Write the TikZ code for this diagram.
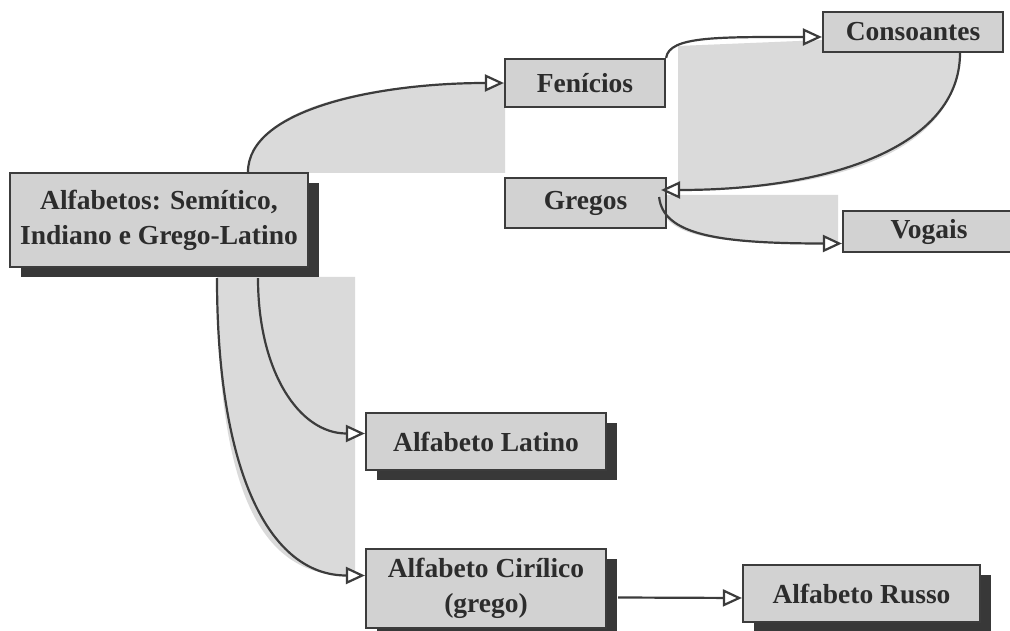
\documentclass[tikz,border=0pt]{standalone}
\usepackage{fontspec}
\setmainfont{Liberation Serif}
\usetikzlibrary{arrows.meta,shadows,calc}
\definecolor{boxfill}{HTML}{D2D2D2}
\definecolor{shadefill}{HTML}{DADADA}
\definecolor{shadowc}{HTML}{383838}
\definecolor{linec}{HTML}{3C3C3C}
\definecolor{textc}{HTML}{2C2C2C}
\begin{document}
\begin{tikzpicture}[x=1pt,y=-1pt,
  box/.style={draw=linec, line width=2.2pt, fill=boxfill, inner sep=0pt,
    align=center, text=textc, font=\fontsize{27.5}{35}\selectfont\bfseries},
  shad/.style={drop shadow={shadow xshift=11pt, shadow yshift=-10pt, fill=shadowc, opacity=1}},
  conn/.style={draw=linec, line width=2.2pt, -{Triangle[length=19pt,width=17pt,fill=white,line width=2.2pt]}},
  plain/.style={draw=linec, line width=2.2pt}]
\useasboundingbox (0,0) rectangle (1010,631);
\fill[white] (0,0) rectangle (1010,631);

% shaded areas under connectors
\fill[shadefill] (248,173) .. controls (248,110) and (361,83) .. (486,83) -- (505,83) -- (505,173) -- cycle;
\fill[shadefill] (678,195) -- (678,46) -- (823,40) -- (823,52) -- (960,52)
   .. controls (960,145) and (849,192) .. (679,190) -- (678,195) -- cycle;
\fill[shadefill] (658,197) .. controls (662,235) and (701,243.5) .. (824,243.5)
   -- (838,243.5) -- (838,195) -- (658,195) -- cycle;
\fill[shadefill] (217,277) .. controls (217,470) and (251,575.5) .. (347,575.5)
   -- (355,575.5) -- (355,277) -- cycle;

% boxes
\node[box, shad, minimum width=298pt, minimum height=94pt] (main) at (159,220)
  {Alfabetos: Semítico,\\Indiano e Grego-Latino};
\node[box, minimum width=160pt, minimum height=48pt] (fen) at (585,83) {Fenícios};
\node[box, minimum width=180pt, minimum height=40pt] (cons) at (913,32) {Consoantes};
\node[box, minimum width=161pt, minimum height=50pt] (greg) at (585.5,203) {Gregos};
\node[box, minimum width=172pt, minimum height=41pt, text width=165pt] (vog) at (929,231.5) {Vogais};
\node[box, shad, minimum width=240pt, minimum height=57pt] (lat) at (486,441.5) {Alfabeto Latino};
\node[box, shad, minimum width=240pt, minimum height=79pt] (cir) at (486,588.5) {Alfabeto Cirílico\\(grego)};
\node[box, shad, minimum width=237pt, minimum height=57pt] (rus) at (861.5,593.5) {Alfabeto Russo};

% connector end points
\coordinate (sFen) at ([xshift=89pt]main.north);
\coordinate (sLat) at ([xshift=99pt,yshift=-10pt]main.south);
\coordinate (sCir) at ([xshift=58pt,yshift=-10pt]main.south);
\coordinate (eLat) at ([yshift=8pt]lat.west);
\coordinate (eCir) at ([yshift=13pt]cir.west);
\coordinate (eCons) at ([yshift=-5pt]cons.west);
\coordinate (sCG) at ([xshift=47pt]cons.south);
\coordinate (eCG) at ([xshift=-6pt,yshift=13pt]greg.east);
\coordinate (sGV) at ([xshift=-8pt,yshift=6pt]greg.east);
\coordinate (eGV) at ([yshift=-12pt]vog.west);
\coordinate (sCR) at ([xshift=11pt,yshift=-9pt]cir.east);
\coordinate (eCR) at ([yshift=-4.5pt]rus.west);

% connectors
\draw[conn] (sFen) .. controls +(0,-63) and +(-125,0) .. (fen.west);
\draw[conn] (fen.north east) .. controls +(3,-22) and +(-103,0) .. (eCons);
\draw[conn] (sCG) .. controls +(0,93) and +(170,0) .. (eCG);
\draw[conn] (sGV) .. controls +(4,38) and +(-123,0) .. (eGV);
\draw[conn] (sLat) .. controls +(0,93) and +(-66,0) .. (eLat);
\draw[conn] (sCir) .. controls +(0,193) and +(-96,0) .. (eCir);
\draw[conn] (sCR) -- (eCR);
\end{tikzpicture}
\end{document}
